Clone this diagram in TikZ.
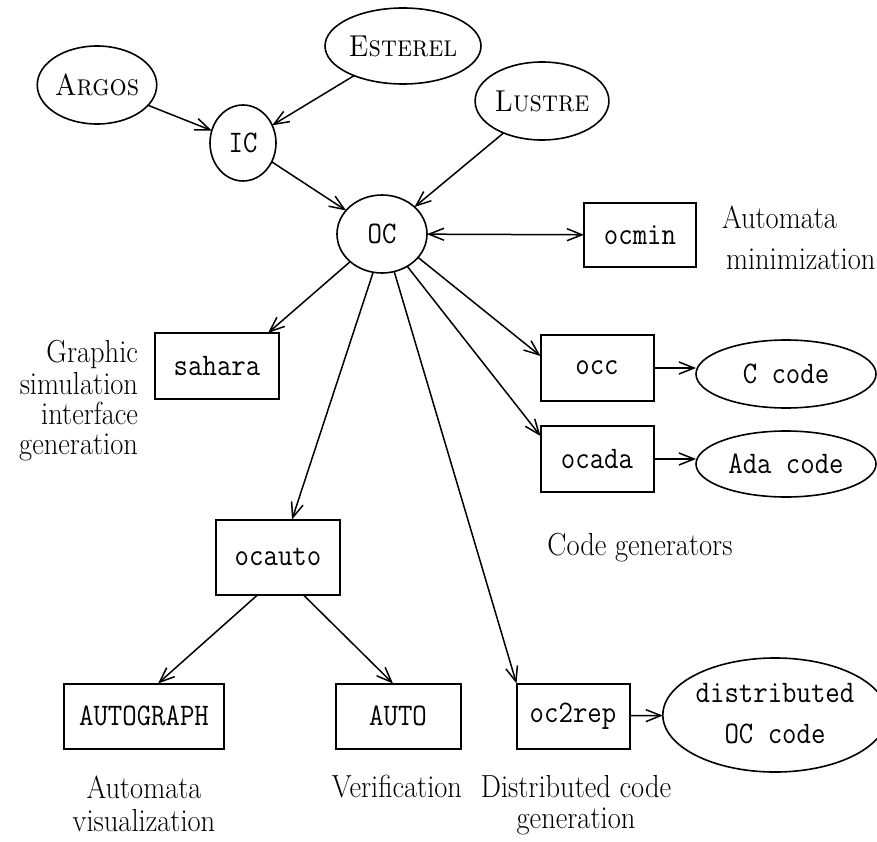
\documentclass[tikz,border=0pt]{standalone}
\usetikzlibrary{shapes.geometric,arrows.meta}
% tall, narrow lettering
\newcommand\tall[1]{\scalebox{1}[1.12]{#1}}
\begin{document}
\begin{tikzpicture}[x=1pt,y=-1pt,
  >={Straight Barb[length=15pt,width=12pt]},
  every node/.style={inner sep=0pt,outer sep=0pt},
  lang/.style={draw,ellipse,line width=1.6pt,font=\fontsize{27}{32}\selectfont\scshape},
  ltt/.style={draw,ellipse,line width=1.6pt,font=\fontsize{28}{32}\selectfont\ttfamily},
  tool/.style={draw,rectangle,line width=2pt,font=\fontsize{28}{32}\selectfont\ttfamily},
  fmt/.style={draw,ellipse,line width=1.6pt,font=\fontsize{28}{36}\selectfont\ttfamily},
  note/.style={font=\fontsize{28.5}{30}\selectfont},
  link/.style={line width=1.5pt,->},
  both/.style={line width=1.5pt,<->}
]
\useasboundingbox (0,0) rectangle (877,842);

% source languages and intermediate codes
\node[lang,minimum width=110pt,minimum height=78pt] (argos) at (97,85) {\tall{Argos}};
\node[lang,minimum width=156pt,minimum height=76pt] (esterel) at (403,46) {\tall{Esterel}};
\node[lang,minimum width=98pt,minimum height=78pt] (lustre) at (542,101) {\tall{Lustre}};
\node[ltt,minimum width=66pt,minimum height=76pt] (ic) at (243,143) {\tall{IC}};
\node[ltt,minimum width=90pt,minimum height=78pt] (oc) at (382,234) {\tall{OC}};

% tools
\node[tool,minimum width=112pt,minimum height=64pt] (ocmin) at (640,235) {\tall{ocmin}};
\node[tool,minimum width=124pt,minimum height=66pt] (sahara) at (217,366) {\tall{sahara}};
\node[tool,minimum width=113pt,minimum height=66pt] (occ) at (597,368) {\tall{occ}};
\node[tool,minimum width=113pt,minimum height=66pt] (ocada) at (597,459) {\tall{ocada}};
\node[tool,minimum width=124pt,minimum height=75pt] (ocauto) at (278,557) {\tall{ocauto}};
\node[tool,minimum width=160pt,minimum height=65pt] (autograph) at (144,716) {\tall{AUTOGRAPH}};
\node[tool,minimum width=125pt,minimum height=65pt] (auto) at (398,716) {\tall{AUTO}};
\node[tool,minimum width=113pt,minimum height=65pt] (oc2rep) at (573,716) {\tall{oc2rep}};

% generated code
\node[fmt,minimum width=180pt,minimum height=68pt] (ccode) at (786,374) {\tall{C code}};
\node[fmt,minimum width=180pt,minimum height=66pt] (adacode) at (786,464) {\tall{Ada code}};
\node[fmt,minimum width=200pt,minimum height=110pt] (dist) at (775,715)
  {\tall{\begin{tabular}{@{}c@{}}distributed\\OC code\end{tabular}}};

% annotations
\node[note,anchor=west] (minA) at (722,217) {\tall{Automata}};
\node[note,anchor=west] (minB) at (726,259) {\tall{minimization}};
\node[note,anchor=east] (simA) at (138,354) {\tall{Graphic}};
\node[note,anchor=east] (simB) at (138,384) {\tall{simulation}};
\node[note,anchor=east] (simC) at (138,413) {\tall{interface}};
\node[note,anchor=east] (simD) at (138,447) {\tall{generation}};
\node[note] (gen) at (640,548) {\tall{Code generators}};
\node[note] (visA) at (144,787) {\tall{Automata}};
\node[note] (visB) at (144,821) {\tall{visualization}};
\node[note] (ver) at (397,787) {\tall{Verification}};
\node[note] (disA) at (576,787) {\tall{Distributed code}};
\node[note] (disB) at (576,821) {\tall{generation}};

% connectors
\draw[link] (argos) -- (ic);
\draw[link] (esterel) -- (ic);
\draw[link] (ic) -- (oc);
\draw[link] (lustre) -- (oc);
\draw[both] (oc) -- (ocmin);
\draw[link] (oc) -- ([xshift=-11pt]sahara.north east);
\draw[link] (oc.-103) -- ([xshift=14pt]ocauto.north);
\draw[link] (oc.-72) -- (oc2rep.north west);
\draw[link] (oc.-33) -- ([yshift=12pt]occ.west);
\draw[link] (oc.-52) -- ([yshift=23pt]ocada.west);
\draw[link] (occ.east) -- (occ.east -| ccode.west);
\draw[link] (ocada.east) -- (ocada.east -| adacode.west);
\draw[link] ([xshift=-20pt]ocauto.south) -- ([xshift=14pt]autograph.north);
\draw[link] ([xshift=25pt]ocauto.south) -- ([xshift=-5pt]auto.north);
\draw[link] (oc2rep) -- (dist);
\end{tikzpicture}
\end{document}
